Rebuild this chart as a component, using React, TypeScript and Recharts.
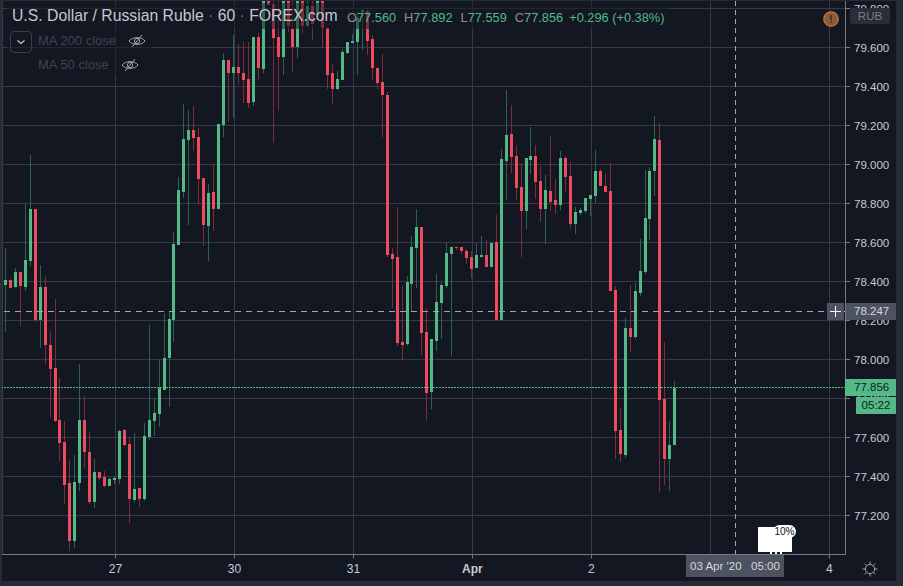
import React from "react";
import { Bar, CartesianGrid, ComposedChart, ReferenceLine, XAxis, YAxis } from "recharts";

// hourly USD/RUB candles
const opens = [
  78.381, 78.407, 78.371, 78.448, 78.371, 78.505, 78.771, 78.202, 78.371, 78.074,
  77.956, 77.689, 77.576, 77.366, 77.069, 77.366, 77.689, 77.525, 77.269, 77.423,
  77.397, 77.351, 77.382, 77.387, 77.638, 77.566, 77.279, 77.34, 77.284, 77.602,
  77.684, 77.72, 77.843, 78.007, 78.202, 78.587, 78.858, 79.125, 79.176, 79.14,
  78.93, 78.684, 78.858, 78.771, 79.202, 79.535, 79.469, 79.499, 79.469, 79.438,
  79.32, 79.653, 79.489, 79.838, 79.822, 79.653, 79.551, 79.838, 79.694, 79.602,
  79.838, 79.71, 79.812, 79.766, 79.838, 79.699, 79.469, 79.387, 79.433, 79.571,
  79.622, 79.628, 79.781, 79.787, 79.643, 79.494, 79.423, 79.356, 78.54, 78.525,
  78.089, 78.079, 78.387, 78.571, 78.679, 78.141, 77.833, 78.094, 78.289, 78.376,
  78.54, 78.576, 78.576, 78.556, 78.525, 78.469, 78.525, 78.535, 78.474, 78.602,
  78.202, 79.017, 79.156, 79.043, 78.884, 78.761, 79.022, 79.043, 78.915, 78.771,
  78.864, 78.817, 78.792, 79.033, 78.94, 78.694, 78.751, 78.761, 78.822, 78.838,
  78.966, 78.889, 78.864, 78.356, 77.638, 77.51, 78.161, 78.115, 78.34, 78.448,
  78.72, 78.966, 79.125, 77.797, 77.489, 77.56,
];
const highs = [
  78.571, 78.412, 78.469, 78.448, 78.797, 79.048, 78.771, 78.484, 78.428, 78.146,
  78.31, 77.905, 77.684, 77.484, 77.51, 77.976, 77.812, 77.628, 77.489, 77.423,
  77.428, 77.392, 77.402, 77.638, 77.643, 77.602, 77.623, 77.34, 77.674, 78.176,
  77.802, 77.997, 78.238, 78.243, 78.653, 78.935, 79.31, 79.279, 79.3, 79.187,
  78.93, 78.899, 79.002, 79.207, 79.571, 79.535, 79.664, 79.617, 79.628, 79.628,
  79.653, 79.674, 79.84, 79.84, 79.84, 79.84, 79.84, 79.84, 79.84, 79.84,
  79.84, 79.838, 79.84, 79.84, 79.84, 79.705, 79.515, 79.479, 79.592, 79.628,
  79.669, 79.787, 79.792, 79.797, 79.664, 79.494, 79.566, 79.371, 78.571, 78.781,
  78.376, 78.428, 78.633, 78.771, 78.679, 78.264, 78.105, 78.438, 78.397, 78.602,
  78.576, 78.576, 78.576, 78.566, 78.556, 78.597, 78.633, 78.612, 78.597, 78.74,
  79.079, 79.381, 79.305, 79.099, 79.007, 79.033, 79.192, 79.099, 78.992, 78.945,
  79.145, 78.925, 79.069, 79.043, 79.012, 78.781, 78.776, 78.828, 78.843, 79.074,
  78.976, 78.951, 79.007, 78.376, 77.751, 78.212, 78.381, 78.392, 78.617, 78.971,
  78.987, 79.248, 79.212, 78.089, 77.684, 77.892,
];
const lows = [
  78.141, 78.366, 78.366, 78.171, 78.351, 78.479, 78.192, 78.059, 77.976, 77.699,
  77.679, 77.479, 77.258, 77.02, 77.033, 77.325, 77.443, 77.258, 77.238, 77.382,
  77.346, 77.351, 77.361, 77.361, 77.556, 77.161, 77.269, 77.243, 77.274, 77.587,
  77.607, 77.653, 77.843, 77.756, 78.089, 78.587, 78.828, 78.689, 79.069, 78.797,
  78.581, 78.505, 78.658, 78.771, 79.14, 79.217, 79.238, 79.412, 79.315, 79.289,
  79.3, 79.433, 79.469, 79.817, 79.11, 79.274, 79.458, 79.679, 79.474, 79.546,
  79.674, 79.71, 79.638, 79.766, 79.597, 79.387, 79.31, 79.381, 79.433, 79.566,
  79.622, 79.458, 79.587, 79.561, 79.433, 79.387, 79.14, 78.525, 78.264, 78.069,
  77.997, 78.069, 78.248, 78.366, 78.023, 77.684, 77.746, 78.043, 78.105, 78.366,
  78.017, 78.561, 78.54, 78.489, 78.412, 78.469, 78.525, 78.474, 78.474, 78.202,
  78.202, 78.817, 78.956, 78.817, 78.525, 78.669, 78.951, 78.822, 78.704, 78.592,
  78.761, 78.745, 78.766, 78.858, 78.669, 78.643, 78.74, 78.751, 78.735, 78.802,
  78.889, 78.858, 78.351, 77.489, 77.474, 77.494, 78.038, 78.105, 78.325, 78.438,
  78.612, 78.838, 77.32, 77.356, 77.325, 77.559,
];
const closes = [
  78.407, 78.366, 78.448, 78.376, 78.51, 78.771, 78.202, 78.371, 78.074, 77.951,
  77.684, 77.571, 77.356, 77.069, 77.371, 77.689, 77.525, 77.269, 77.423, 77.392,
  77.351, 77.387, 77.392, 77.633, 77.561, 77.284, 77.335, 77.284, 77.607, 77.689,
  77.725, 77.853, 78.007, 78.207, 78.592, 78.869, 79.13, 79.176, 79.135, 78.925,
  78.689, 78.853, 78.771, 79.207, 79.535, 79.469, 79.499, 79.469, 79.433, 79.315,
  79.653, 79.494, 79.838, 79.817, 79.648, 79.551, 79.838, 79.71, 79.602, 79.838,
  79.71, 79.812, 79.72, 79.838, 79.699, 79.458, 79.387, 79.438, 79.576, 79.628,
  79.633, 79.751, 79.792, 79.633, 79.494, 79.417, 79.356, 78.535, 78.515, 78.084,
  78.074, 78.397, 78.576, 78.679, 78.135, 77.828, 78.105, 78.294, 78.381, 78.546,
  78.576, 78.571, 78.556, 78.52, 78.463, 78.535, 78.535, 78.474, 78.597, 78.202,
  79.028, 79.151, 79.038, 78.879, 78.761, 79.033, 79.043, 78.91, 78.771, 78.869,
  78.807, 78.792, 79.033, 78.935, 78.694, 78.756, 78.766, 78.828, 78.843, 78.966,
  78.889, 78.858, 78.351, 77.633, 77.515, 78.161, 78.115, 78.351, 78.453, 78.725,
  78.966, 79.13, 77.792, 77.489, 77.561, 77.856,
];

const priceTicks = [
  77.2, 77.4, 77.6, 77.8, 78.0, 78.2, 78.4, 78.6, 78.8, 79.0, 79.2, 79.4, 79.6, 79.8,
];
const dayTicks = [22.2, 46.2, 70.2, 94.2, 118.2, 142.2, 166.2];
// the "3" tick sits under the crosshair's time label in the picture
const dayLabels = ["27", "30", "31", "Apr", "2", "", "4"];

const crosshairPrice = 78.247;
const crosshairSlot = 147.2;
const lastClose = closes[closes.length - 1];

const candles = opens.map((open, slot) => ({
  slot,
  open,
  close: closes[slot],
  range: [lows[slot], highs[slot]],
}));

const BG = "#131722";
const FRAME = "#262a35";
const UP = "#53b987";
const DOWN = "#ef4b5e";
const UP_WICK = "#2e5f52";
const DOWN_WICK = "#7d2c3e";
const GRID = "#363a47";
const AXIS = "#787b86";
const TEXT = "#c8cad0";

const Candle = (props: any) => {
  const { x, y, width, height, payload } = props;
  const [low, high] = payload.range;
  const up = payload.close >= payload.open;
  const perUnit = height / (high - low);
  const top = y + (high - Math.max(payload.open, payload.close)) * perUnit;
  const bodyHeight = Math.abs(payload.close - payload.open) * perUnit;
  return (
    <g shapeRendering="crispEdges">
      <rect x={x + width / 2 - 0.5} y={y} width={1} height={height} fill={up ? UP_WICK : DOWN_WICK} />
      <rect x={x} y={top} width={width} height={Math.max(bodyHeight, 1)} fill={up ? UP : DOWN} />
    </g>
  );
};

const DayTick = (props: any) => {
  const { x, y, index } = props;
  const label = dayLabels[index];
  return (
    <text x={x} y={y} dy={12.5} textAnchor="middle" fontSize={12} fontWeight={label === "Apr" ? 700 : 400} fill={TEXT}>
      {label}
    </text>
  );
};

const box = (style: React.CSSProperties): React.CSSProperties => ({
  position: "absolute",
  whiteSpace: "nowrap",
  ...style,
});

const EyeOff = ({ x, y }: { x: number; y: number }) => (
  <svg style={box({ left: x, top: y })} width="18" height="14" viewBox="0 0 18 14" fill="none" stroke="#a3a6ae" strokeWidth="1">
    <path d="M1 7 C4 2.5 14 2.5 17 7 C14 11.5 4 11.5 1 7 Z" />
    <circle cx="9" cy="7" r="2.6" />
    <path d="M4 13 L14 1" />
  </svg>
);

const Header = () => (
  <>
    <div style={box({ left: 7, top: 3, width: 663, height: 26, background: "rgba(19,23,34,0.55)" })} />
    <div style={box({ left: 7, top: 29, width: 145, height: 24, background: "rgba(19,23,34,0.55)" })} />
    <div style={box({ left: 34, top: 53, width: 112, height: 24, background: "rgba(19,23,34,0.55)" })} />
    <div style={box({ left: 12, top: 7, fontSize: 15.75, color: "#c4c7ce" })}>
      U.S. Dollar / Russian Ruble <span style={{ color: "#6a6d78" }}>·</span> 60 <span style={{ color: "#6a6d78" }}>·</span> FOREX.com
    </div>
    <div style={box({ left: 347, top: 10, fontSize: 12.8, color: "#8d9099" })}>
      O<span style={{ color: UP }}>77.560</span>
      <span style={{ marginLeft: 8 }}>H</span><span style={{ color: UP }}>77.892</span>
      <span style={{ marginLeft: 8 }}>L</span><span style={{ color: UP }}>77.559</span>
      <span style={{ marginLeft: 8 }}>C</span><span style={{ color: UP }}>77.856</span>
      <span style={{ marginLeft: 6, color: UP }}>+0.296 (+0.38%)</span>
    </div>
    <div style={box({ left: 10, top: 31, width: 20, height: 20, border: "1px solid #3a3e4a", borderRadius: 4 })}>
      <svg width="20" height="20" viewBox="0 0 20 20" fill="none" stroke="#c4c7ce" strokeWidth="1.3">
        <path d="M6.5 8.5 L10 11.5 L13.5 8.5" />
      </svg>
    </div>
    <div style={box({ left: 38, top: 33, fontSize: 13, color: "#3f4350" })}>MA 200 close</div>
    <EyeOff x={128} y={34} />
    <div style={box({ left: 38, top: 57, fontSize: 13, color: "#3f4350" })}>MA 50 close</div>
    <EyeOff x={121} y={58} />
  </>
);

const PriceScaleLabels = () => (
  <>
    <div style={box({ left: 850, top: 8, width: 40, height: 16, background: "#2a2e39", borderRadius: 3, color: "#787b86", fontSize: 11.5, lineHeight: "16px", textAlign: "center" })}>
      RUB
    </div>
    <svg style={box({ left: 823, top: 11 })} width="16" height="16" viewBox="0 0 16 16">
      <circle cx="8" cy="8" r="7.2" fill="#8a5c3c" stroke="#cf7436" strokeWidth="1.3" />
      <path d="M8 4 V9.2 M8 10.6 V12" stroke="#3c2c22" strokeWidth="1.5" />
    </svg>
    <div style={box({ left: 827, top: 303, width: 17, height: 17, background: "#4c525e" })}>
      <svg width="17" height="17" viewBox="0 0 17 17" stroke="#ffffff" strokeWidth="1">
        <path d="M3 8.5 H14 M8.5 3 V14" />
      </svg>
    </div>
    <div style={box({ left: 846, top: 303, width: 50, height: 17, background: "#4c525e", color: "#d6d8de", fontSize: 11.5, lineHeight: "17px", paddingLeft: 8, boxSizing: "border-box" })}>
      78.247
    </div>
    <div style={box({ left: 845, top: 379, width: 51, height: 17, background: UP, color: "#10241c", fontSize: 11.5, lineHeight: "17px", paddingLeft: 9, boxSizing: "border-box" })}>
      77.856
    </div>
    <div style={box({ left: 856, top: 397, width: 40, height: 17, background: UP, color: "#10241c", fontSize: 11.5, lineHeight: "17px", textAlign: "center" })}>
      05:22
    </div>
  </>
);

const TimeScaleLabels = () => (
  <>
    <div style={box({ left: 758, top: 527, width: 34, height: 25, background: "#ffffff" })} />
    <div style={box({ left: 773, top: 525, width: 23, height: 13, background: "#ffffff", borderRadius: 7, color: "#111", fontSize: 10, lineHeight: "13px", textAlign: "center" })}>
      10%
    </div>
    <div style={box({ left: 770, top: 552, width: 12, height: 2, background: "repeating-linear-gradient(90deg,#ffffff 0 2px,transparent 2px 5px)" })} />
    <div style={box({ left: 686, top: 555, width: 98, height: 22, background: "#4c525e", color: "#d6d8de", fontSize: 11.5, lineHeight: "22px", textAlign: "center" })}>
      03 Apr '20&nbsp;&nbsp;&nbsp;05:00
    </div>
    <svg style={box({ left: 862, top: 561 })} width="16" height="16" viewBox="0 0 16 16" fill="none" stroke="#a3a6ae" strokeWidth="1">
      <circle cx="8" cy="8" r="4.6" />
      <path d="M8 0.5 V3 M8 13 V15.5 M0.5 8 H3 M13 8 H15.5 M2.7 2.7 L4.5 4.5 M11.5 11.5 L13.3 13.3 M2.7 13.3 L4.5 11.5 M11.5 4.5 L13.3 2.7" />
    </svg>
  </>
);

export default function App() {
  return (
    <div style={{ position: "fixed", left: 0, top: 0, width: 903, height: 586, overflow: "hidden", background: BG, fontFamily: "'Liberation Sans', Arial, sans-serif" }}>
      <ComposedChart
        width={903}
        height={586}
        data={candles}
        margin={{ top: 0, right: 0, bottom: 0, left: 2 }}
        style={{ position: "absolute", left: 0, top: 0 }}
      >
        <CartesianGrid stroke={GRID} strokeWidth={1} shapeRendering="crispEdges" />
        <XAxis
          dataKey="slot"
          type="number"
          domain={[-0.686, 169.44]}
          allowDataOverflow
          ticks={dayTicks}
          interval={0}
          height={31.5}
          stroke={AXIS}
          tickSize={4}
          tick={<DayTick />}
        />
        <YAxis
          orientation="right"
          type="number"
          domain={[77, 79.8436]}
          allowDataOverflow
          ticks={priceTicks}
          interval={0}
          width={57.5}
          stroke={AXIS}
          tickSize={4.5}
          tickMargin={4}
          tick={{ fontSize: 11.5, fill: TEXT }}
          tickFormatter={(v: number) => v.toFixed(3)}
        />
        <Bar dataKey="range" barSize={3} shape={<Candle />} isAnimationActive={false} />
        <ReferenceLine y={lastClose} stroke={UP} strokeDasharray="1.5 1.5" shapeRendering="crispEdges" />
        <ReferenceLine y={crosshairPrice} stroke="#a3a6ae" strokeDasharray="6 5" shapeRendering="crispEdges" />
        <ReferenceLine x={crosshairSlot} stroke="#a3a6ae" strokeDasharray="5 4" shapeRendering="crispEdges" />
      </ComposedChart>
      <div style={box({ left: 0, top: 0, width: 2, height: 586, background: FRAME })} />
      <div style={box({ left: 0, top: 0, width: 903, height: 1, background: FRAME })} />
      <div style={box({ left: 896, top: 0, width: 7, height: 586, background: FRAME })} />
      <div style={box({ left: 0, top: 581, width: 903, height: 5, background: FRAME })} />
      <Header />
      <PriceScaleLabels />
      <TimeScaleLabels />
    </div>
  );
}
